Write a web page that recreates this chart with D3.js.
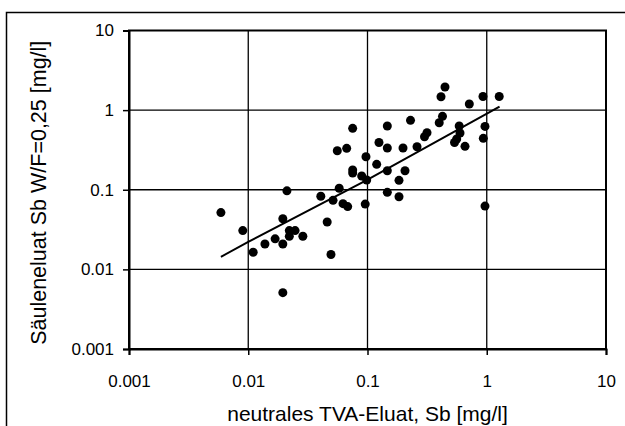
<!DOCTYPE html>
<html>
<head>
<meta charset="utf-8">
<script src="https://cdn.jsdelivr.net/npm/d3@7"></script>
<style>
  body { margin: 0; background: #fff; }
  text { font-family: "Liberation Sans", Arial, sans-serif; fill: #000; }
</style>
</head>
<body>
<div id="chart"></div>
<script>
// --------------------------- Data ---------------------------
const tvaEluat = [
  0.0059, 0.0090, 0.0110, 0.0138, 0.0168, 0.0195, 0.0195, 0.0221, 0.0247, 0.0221,
  0.0287, 0.0211, 0.0195, 0.0406, 0.0459, 0.0494, 0.0514, 0.0579, 0.0623, 0.0682,
  0.0957, 0.0558, 0.0669, 0.0751, 0.0971, 0.0751, 0.0751, 0.0894, 0.0985, 0.1194,
  0.1248, 0.1466, 0.1466, 0.1466, 0.1466, 0.1837, 0.1837, 0.1985, 0.2063, 0.2294,
  0.2602, 0.3006, 0.3155, 0.3994, 0.4255, 0.4135, 0.4466, 0.5875, 0.5967, 0.5598,
  0.5366, 0.6572, 0.7140, 0.9302, 1.2720, 0.9667, 0.9357, 0.9667
];
const saeulenEluat = [
  0.0517, 0.0307, 0.0164, 0.0208, 0.0242, 0.0432, 0.0208, 0.0307, 0.0307, 0.0260,
  0.0261, 0.0969, 0.0051, 0.0829, 0.0393, 0.0154, 0.0736, 0.1044, 0.0669, 0.0615,
  0.0661, 0.3090, 0.3310, 0.5910, 0.2600, 0.1768, 0.1620, 0.1486, 0.1324, 0.2085,
  0.3917, 0.6314, 0.3340, 0.1733, 0.0928, 0.1312, 0.0817, 0.3340, 0.1733, 0.7444,
  0.3469, 0.4634, 0.5200, 0.6947, 0.8360, 1.4730, 1.9500, 0.6314, 0.5156, 0.4335,
  0.3917, 0.3509, 1.1930, 1.4820, 1.4820, 0.6240, 0.4422, 0.0624
];
const trendX = [0.0059, 0.01, 0.0985, 1.28];
const trendY = [0.0144, 0.0222, 0.132, 1.11];

const xTicks = [0.001, 0.01, 0.1, 1, 10];
const yTicks = [0.001, 0.01, 0.1, 1, 10];
const xTickLabels = ["0.001", "0.01", "0.1", "1", "10"];
const yTickLabels = ["0.001", "0.01", "0.1", "1", "10"];

const xTitle = "neutrales TVA-Eluat, Sb [mg/l]";
const yTitle = "Säuleneluat Sb W/F=0,25 [mg/l]";

// --------------------------- Layout ---------------------------
const width = 625;
const height = 426;
const plotLeft = 129, plotRight = 606, plotTop = 30.5, plotBottom = 349;

const svg = d3.select("#chart")
  .append("svg")
  .attr("width", width)
  .attr("height", height);

// outer chart frame (runs off the right and bottom edge)
svg.append("rect")
  .attr("x", 6.5).attr("y", 12.5)
  .attr("width", 700).attr("height", 500)
  .attr("fill", "none")
  .attr("stroke", "#000")
  .attr("stroke-width", 1.5);

const x = d3.scaleLog().domain([0.001, 10]).range([plotLeft, plotRight]);
const y = d3.scaleLog().domain([0.001, 10]).range([plotBottom, plotTop]);

// --------------------------- Grid ---------------------------
const grid = svg.append("g");
grid.selectAll("line.vgrid")
  .data(xTicks.slice(1, -1))
  .join("line")
  .attr("class", "vgrid")
  .attr("x1", (d) => x(d)).attr("x2", (d) => x(d))
  .attr("y1", plotTop).attr("y2", plotBottom)
  .attr("stroke", "#000").attr("stroke-width", 1.3);

grid.selectAll("line.hgrid")
  .data(yTicks.slice(1, -1))
  .join("line")
  .attr("class", "hgrid")
  .attr("x1", plotLeft).attr("x2", plotRight)
  .attr("y1", (d) => y(d)).attr("y2", (d) => y(d))
  .attr("stroke", "#000").attr("stroke-width", 1.3);

svg.append("rect")
  .attr("x", plotLeft).attr("y", plotTop)
  .attr("width", plotRight - plotLeft).attr("height", plotBottom - plotTop)
  .attr("fill", "none")
  .attr("stroke", "#000")
  .attr("stroke-width", 2);

// --------------------------- Axes ---------------------------
const xAxis = svg.append("g")
  .attr("transform", `translate(0,${plotBottom})`)
  .call(d3.axisBottom(x).tickValues(xTicks)
    .tickFormat((d, i) => xTickLabels[i]).tickSize(6).tickPadding(20));
const yAxis = svg.append("g")
  .attr("transform", `translate(${plotLeft},0)`)
  .call(d3.axisLeft(y).tickValues(yTicks)
    .tickFormat((d, i) => yTickLabels[i]).tickSize(6).tickPadding(9));

[xAxis, yAxis].forEach((a) => {
  a.attr("font-size", 17).attr("font-family", '"Liberation Sans", Arial, sans-serif');
  a.select(".domain").attr("stroke", "#000").attr("stroke-width", 2);
  a.selectAll(".tick line").attr("stroke", "#000").attr("stroke-width", 1.5);
  a.selectAll(".tick text").attr("fill", "#000");
});

svg.append("text")
  .attr("x", (plotLeft + plotRight) / 2)
  .attr("y", 421)
  .attr("text-anchor", "middle")
  .attr("font-size", 21)
  .text(xTitle);

svg.append("text")
  .attr("transform", `translate(46,${(plotTop + plotBottom) / 2 + 3}) rotate(-90)`)
  .attr("text-anchor", "middle")
  .attr("font-size", 21.5)
  .text(yTitle);

// --------------------------- Trend line & points ---------------------------
const trend = trendX.map((d, i) => [d, trendY[i]]);
svg.append("path")
  .datum(trend)
  .attr("d", d3.line().x((d) => x(d[0])).y((d) => y(d[1])))
  .attr("fill", "none")
  .attr("stroke", "#000")
  .attr("stroke-width", 2);

svg.append("g")
  .selectAll("circle")
  .data(tvaEluat.map((d, i) => [d, saeulenEluat[i]]))
  .join("circle")
  .attr("cx", (d) => x(d[0]))
  .attr("cy", (d) => y(d[1]))
  .attr("r", 4.5)
  .attr("fill", "#000");
</script>
</body>
</html>
